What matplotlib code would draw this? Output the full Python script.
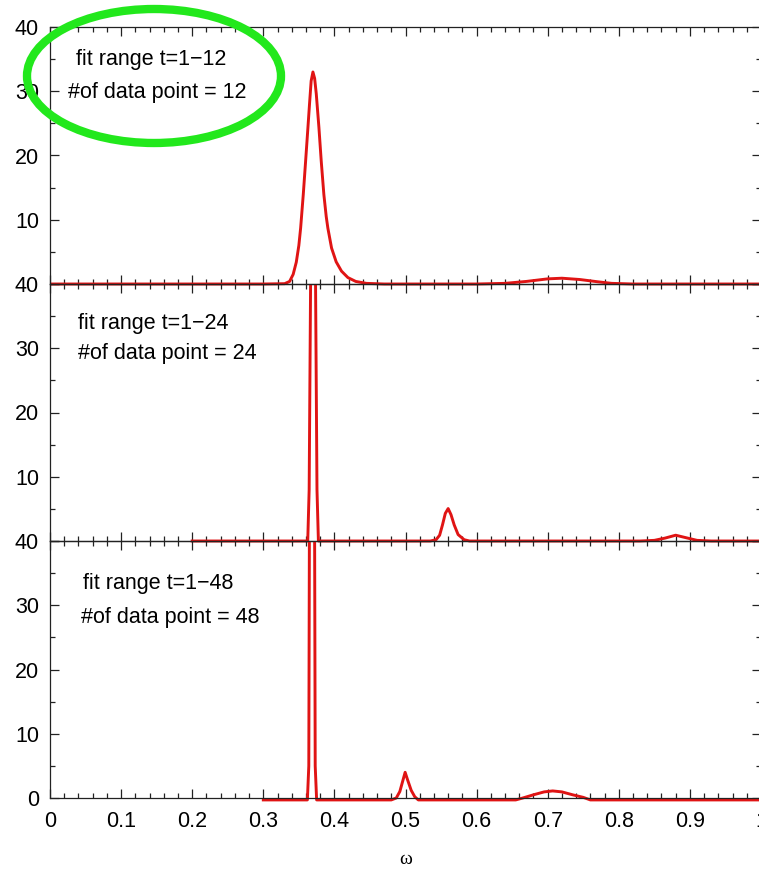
import matplotlib
matplotlib.use("Agg")
import matplotlib.pyplot as plt
from matplotlib.patches import Ellipse, Rectangle
from matplotlib.ticker import MultipleLocator

# ---------------- data ----------------
omega1 = [0.0, 0.30, 0.330, 0.337, 0.342, 0.3464, 0.3500, 0.3525, 0.3562, 0.3595,
          0.3628, 0.3650, 0.3673, 0.3698, 0.3722, 0.3745, 0.3782, 0.3815, 0.3852,
          0.3885, 0.3908, 0.396, 0.4025, 0.410, 0.419, 0.430, 0.445, 0.47,
          0.60, 0.64, 0.67, 0.70, 0.72, 0.745, 0.77, 0.79, 0.82, 1.0]
spec1 = [0.0, 0.0, 0.05, 0.4, 1.5, 3.4, 6.0, 8.7, 13.9, 19.1,
         24.4, 28.0, 31.6, 33.0, 32.0, 29.6, 24.4, 19.1, 13.9,
         10.5, 8.7, 5.6, 3.45, 2.0, 1.0, 0.4, 0.1, 0.0,
         0.0, 0.1, 0.4, 0.8, 0.9, 0.7, 0.35, 0.1, 0.0, 0.0]

omega2 = [0.20, 0.3625, 0.3645, 0.3665, 0.3700, 0.3735, 0.3755, 0.3775,
          0.535, 0.543, 0.548, 0.552, 0.556, 0.560, 0.564, 0.5685, 0.574, 0.5825, 0.59,
          0.83, 0.85, 0.865, 0.88, 0.895, 0.91, 0.93, 1.0]
spec2 = [0.0, 0.0, 8.0, 40.0, 110.0, 40.0, 8.0, 0.0,
         0.0, 0.2, 0.9, 2.5, 4.3, 5.05, 4.1, 2.5, 1.0, 0.2, 0.0,
         0.0, 0.1, 0.45, 0.9, 0.5, 0.1, 0.0, 0.0]

omega3 = [0.30, 0.3620, 0.3640, 0.3648, 0.3685, 0.3722, 0.3730, 0.3750,
          0.480, 0.487, 0.492, 0.496, 0.4995, 0.503, 0.508, 0.513, 0.518,
          0.655, 0.665, 0.68, 0.695, 0.707, 0.72, 0.735, 0.75, 0.76, 1.0]
spec3 = [-0.3, -0.3, 5.0, 40.0, 300.0, 40.0, 5.0, -0.3,
         -0.3, 0.0, 1.0, 2.6, 4.0, 2.8, 1.2, 0.2, -0.3,
         -0.3, 0.0, 0.5, 0.95, 1.1, 0.95, 0.5, 0.1, -0.3, -0.3]

panels = [
    (omega1, spec1, ["fit range t=1\u221212", "#of data point = 12"]),
    (omega2, spec2, ["fit range t=1\u221224", "#of data point = 24"]),
    (omega3, spec3, ["fit range t=1\u221248", "#of data point = 48"]),
]
# text positions in axes fraction (per panel, per line)
text_pos = [[(0.036, 0.875), (0.026, 0.745)],
            [(0.040, 0.848), (0.040, 0.728)],
            [(0.046, 0.833), (0.043, 0.704)]]

y_ticklabels = [["", "10", "20", "30", "40"],
                ["", "10", "20", "30", "40"],
                ["0", "10", "20", "30", "40"]]
x_ticks = [0, 0.1, 0.2, 0.3, 0.4, 0.5, 0.6, 0.7, 0.8, 0.9, 1.0]
x_ticklabels = ["0", "0.1", "0.2", "0.3", "0.4", "0.5", "0.6", "0.7", "0.8", "0.9", "1"]

# ---------------- figure ----------------
W, H = 759, 871
fig = plt.figure(figsize=(W / 100, H / 100), dpi=100)
plt.rcParams['font.family'] = ['Liberation Sans', 'DejaVu Sans']

left = 50 / W
width = 711 / W
bottom = 1 - 798 / H
ph = 257 / H

red = '#e01414'
axcol = '#222222'

for i, (om, sp, txt) in enumerate(panels):
    b = bottom + (2 - i) * ph
    ax = fig.add_axes([left, b, width, ph])
    ax.patch.set_facecolor('none')
    ax.set_xlim(0, 1)
    ax.set_ylim(0, 40)
    line, = ax.plot(om, sp, color=red, lw=2.1, solid_joinstyle='round')
    clip = Rectangle((0, -0.05), 1, 1.05, transform=ax.transAxes)
    line.set_clip_path(clip)

    ax.xaxis.set_major_locator(MultipleLocator(0.1))
    ax.xaxis.set_minor_locator(MultipleLocator(0.02))
    ax.set_yticks([0, 10, 20, 30, 40])
    ax.yaxis.set_minor_locator(MultipleLocator(5))
    ax.tick_params(which='both', direction='in', top=True, right=True,
                   color=axcol, width=0.9)
    ax.tick_params(which='major', length=6.5)
    ax.tick_params(which='minor', length=3.6)
    ax.tick_params(axis='y', labelsize=15.5, pad=8, labelcolor='black')
    ax.tick_params(axis='x', labelsize=15.5, pad=9, labelcolor='black')
    ax.set_yticklabels(y_ticklabels[i])
    if i == 2:
        ax.set_xticks(x_ticks)
        ax.set_xticklabels(x_ticklabels)
        ax.set_xlabel("\u03c9", fontsize=14, family=['Liberation Serif', 'DejaVu Serif'],
                      labelpad=14)
    else:
        ax.set_xticklabels([])
    for s in ax.spines.values():
        s.set_color(axcol)
        s.set_linewidth(0.9)

    for (tx, ty), t in zip(text_pos[i], txt):
        ax.text(tx, ty, t, transform=ax.transAxes, fontsize=15.5,
                ha='left', va='center', color='black')

# green ellipse annotation
ell = Ellipse((154 / W, 1 - 76 / H), 254 / W, 134 / H, transform=fig.transFigure,
              fill=False, edgecolor='#22e81c', linewidth=6, zorder=10)
fig.patches.append(ell)

fig.savefig("out.png", dpi=100)
